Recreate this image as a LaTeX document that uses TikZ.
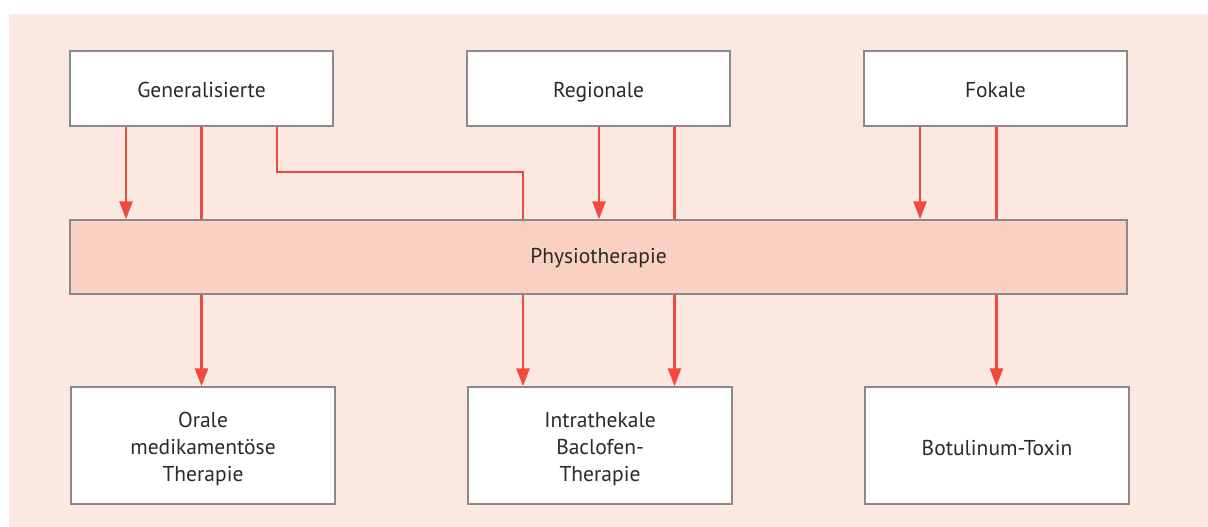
\documentclass[tikz,border=0pt]{standalone}
\usepackage{fontspec}
\setmainfont{PT Sans}
\usetikzlibrary{arrows.meta}
\definecolor{bgpink}{HTML}{FDE8E1}
\definecolor{physfill}{HTML}{F9D0C2}
\definecolor{arrred}{HTML}{F0493F}
\definecolor{boxgray}{HTML}{8A8A8A}
\definecolor{txt}{HTML}{2A2A2A}
\newcommand{\multitext}[1]{\raisebox{-4pt}[\height][\depth]{\begin{tabular}{@{}c@{}}#1\end{tabular}}}
\tikzset{
  box/.style={draw=boxgray, line width=1.5pt, fill=white, text=txt, align=center,
    font=\fontsize{21.5}{27}\selectfont, inner sep=0pt},
  topbox/.style={box, minimum width=263pt, minimum height=75pt, text height=17pt, text depth=0pt},
  botbox/.style={box, minimum width=264pt, minimum height=117pt},
  onelinebot/.style={botbox, text height=19pt, text depth=0pt},
  physbox/.style={box, fill=physfill, minimum width=1057pt, minimum height=74pt, text height=15pt, text depth=3pt},
  arr/.style={draw=arrred, line width=2.6pt, -{Triangle[width=13pt,length=18pt]}},
  ln/.style={draw=arrred, line width=2.6pt}
}
\begin{document}
\begin{tikzpicture}[x=1pt,y=-1pt]
\useasboundingbox (0,0) rectangle (1208,527);
\fill[bgpink] (9,14) rectangle (1208,527);

\node[topbox] (gen) at (201.5,88.5) {Generalisierte};
\node[topbox] (reg) at (598.5,88.5) {Regionale};
\node[topbox] (fok) at (995.5,88.5) {Fokale};

\node[physbox] (phys) at (598.5,257) {Physiotherapie};

\node[botbox] (oral) at (203,445.5) {\multitext{Orale\\medikamentöse\\Therapie}};
\node[botbox] (intra) at (600,445.5) {\multitext{Intrathekale\\Baclofen-\\Therapie}};
\node[onelinebot] (botu) at (997,445.5) {Botulinum-Toxin};

\coordinate (c1) at (126,0);
\coordinate (c2) at (201.5,0);
\coordinate (c3) at (277,0);
\coordinate (c4) at (523,0);
\coordinate (c5) at (599,0);
\coordinate (c6) at (674.5,0);
\coordinate (c7) at (920,0);
\coordinate (c8) at (996.5,0);
\coordinate (bend) at (0,172);

% top to physio
\draw[arr] (gen.south -| c1) -- (phys.north -| c1);
\draw[ln] (gen.south -| c2) -- (phys.north -| c2);
\draw[ln] (gen.south -| c3) -- (c3 |- bend) -- (c4 |- bend) -- (phys.north -| c4);
\draw[arr] (reg.south -| c5) -- (phys.north -| c5);
\draw[ln] (reg.south -| c6) -- (phys.north -| c6);
\draw[arr] (fok.south -| c7) -- (phys.north -| c7);
\draw[ln] (fok.south -| c8) -- (phys.north -| c8);

% physio to bottom
\draw[arr] (phys.south -| c2) -- (oral.north -| c2);
\draw[arr] (phys.south -| c4) -- (intra.north -| c4);
\draw[arr] (phys.south -| c6) -- (intra.north -| c6);
\draw[arr] (phys.south -| c8) -- (botu.north -| c8);
\end{tikzpicture}
\end{document}
